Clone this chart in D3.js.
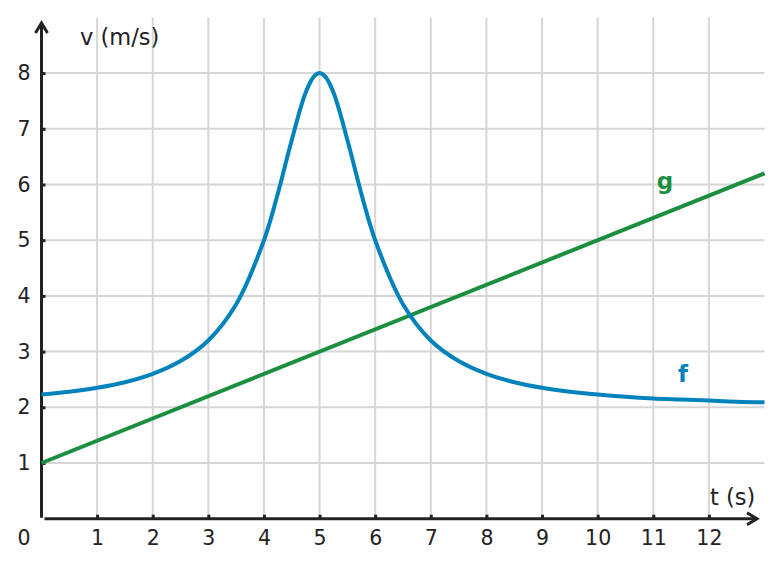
<!DOCTYPE html>
<html>
<head>
<meta charset="utf-8">
<script src="https://cdn.jsdelivr.net/npm/d3@7"></script>
<style>
  body { margin: 0; background: #fff; }
  text { font-family: "DejaVu Sans", sans-serif; fill: #222; }
</style>
</head>
<body>
<div id="chart-area"></div>
<script>
// values
const T_VALUES = [0, 0.5, 1, 1.5, 2, 2.5, 3, 3.5, 4, 4.25, 4.5, 4.75, 4.9, 5, 5.1, 5.25, 5.5, 5.75, 6, 6.5, 7, 7.5, 8, 8.5, 9, 9.5, 10, 10.5, 11, 11.5, 12, 12.5, 13];
const F_VALUES = [2.23, 2.28, 2.35, 2.45, 2.6, 2.83, 3.2, 3.85, 5.0, 5.84, 6.8, 7.65, 7.94, 8, 7.94, 7.65, 6.8, 5.84, 5.0, 3.85, 3.2, 2.83, 2.6, 2.45, 2.35, 2.28, 2.23, 2.19, 2.16, 2.14, 2.12, 2.1, 2.09];
const G_T = [0, 13];
const G_VALUES = [1, 6.2];
const X_TICKS = [1, 2, 3, 4, 5, 6, 7, 8, 9, 10, 11, 12];
const Y_TICKS = [1, 2, 3, 4, 5, 6, 7, 8];

const BLUE = '#0083bd';
const GREEN = '#1b8f3f';

const width = 782;
const height = 567;

const x = d3.scaleLinear().domain([0, 13]).range([41.5, 764.5]);
const y = d3.scaleLinear().domain([0, 9]).range([518.7, 17.4]);

const svg = d3.select('#chart-area')
  .append('svg')
  .attr('width', width)
  .attr('height', height);

// grid
svg.append('g')
  .selectAll('line')
  .data(X_TICKS)
  .join('line')
  .attr('x1', (d) => x(d)).attr('x2', (d) => x(d))
  .attr('y1', y(0)).attr('y2', y(9))
  .attr('stroke', '#d6d6d6').attr('stroke-width', 2);

svg.append('g')
  .selectAll('line')
  .data(Y_TICKS)
  .join('line')
  .attr('y1', (d) => y(d)).attr('y2', (d) => y(d))
  .attr('x1', x(0)).attr('x2', x(13))
  .attr('stroke', '#d6d6d6').attr('stroke-width', 2);

// axes
const xAxis = d3.axisBottom(x).tickValues(X_TICKS).tickSizeInner(-4).tickSizeOuter(0).tickPadding(12);
const yAxis = d3.axisLeft(y).tickValues(Y_TICKS).tickSizeInner(-4).tickSizeOuter(0).tickPadding(11);

const gx = svg.append('g')
  .attr('transform', `translate(0,${y(0)})`)
  .call(xAxis);
const gy = svg.append('g')
  .attr('transform', `translate(${x(0)},0)`)
  .call(yAxis);

[gx, gy].forEach((g) => {
  g.select('.domain').remove();
  g.selectAll('.tick line').attr('stroke', '#222').attr('stroke-width', 3);
  g.selectAll('.tick text').style('font-size', '20.5px').attr('fill', '#222');
});

const axisColor = '#222';
svg.append('line')
  .attr('x1', x(0)).attr('x2', x(0))
  .attr('y1', y(0) - 1).attr('y2', 23)
  .attr('stroke', axisColor).attr('stroke-width', 3);
svg.append('path')
  .attr('d', `M${x(0) - 6},33 L${x(0)},23 L${x(0) + 6},33`)
  .attr('fill', 'none').attr('stroke', axisColor).attr('stroke-width', 3);

svg.append('line')
  .attr('x1', x(0) + 3).attr('x2', 757)
  .attr('y1', y(0)).attr('y2', y(0))
  .attr('stroke', axisColor).attr('stroke-width', 3);
svg.append('path')
  .attr('d', `M747,${y(0) - 6} L757,${y(0)} L747,${y(0) + 6}`)
  .attr('fill', 'none').attr('stroke', axisColor).attr('stroke-width', 3);

svg.append('text')
  .attr('x', 24).attr('y', 545)
  .attr('text-anchor', 'middle')
  .style('font-size', '20.5px')
  .text('0');

svg.append('text')
  .attr('x', 80).attr('y', 45)
  .style('font-size', '22.5px')
  .text('v (m/s)');

svg.append('text')
  .attr('x', 710).attr('y', 505)
  .style('font-size', '22.5px')
  .text('t (s)');

// curves
const line = d3.line()
  .x((d) => x(d[0]))
  .y((d) => y(d[1]))
  .curve(d3.curveCatmullRom.alpha(0.5));

svg.append('path')
  .datum(G_T.map((t, i) => [t, G_VALUES[i]]))
  .attr('d', line)
  .attr('fill', 'none')
  .attr('stroke', GREEN)
  .attr('stroke-width', 4);

svg.append('path')
  .datum(T_VALUES.map((t, i) => [t, F_VALUES[i]]))
  .attr('d', line)
  .attr('fill', 'none')
  .attr('stroke', BLUE)
  .attr('stroke-width', 4);

svg.append('text')
  .attr('x', 665).attr('y', 189)
  .attr('text-anchor', 'middle')
  .style('font-size', '23px').style('font-weight', 'bold')
  .style('fill', GREEN)
  .text('g');

svg.append('text')
  .attr('x', 683).attr('y', 382)
  .attr('text-anchor', 'middle')
  .style('font-size', '23px').style('font-weight', 'bold')
  .style('fill', BLUE)
  .text('f');
</script>
</body>
</html>
